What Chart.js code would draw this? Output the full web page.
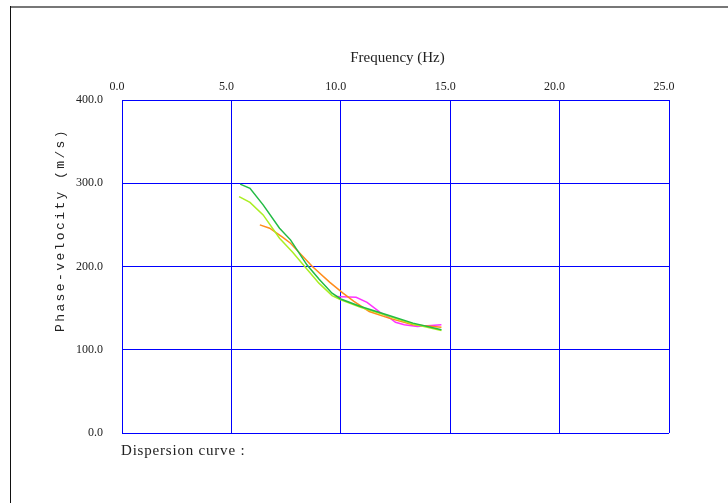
<!DOCTYPE html>
<html>
<head>
<meta charset="utf-8">
<script src="https://cdn.jsdelivr.net/npm/chart.js@4"></script>
<style>
  body { margin: 0; background: #fff; }
  canvas { display: block; }
</style>
</head>
<body>
<canvas id="chart-area-1" width="728" height="503"></canvas>
<script>
// axis ticks
var freqTicks = [0, 5, 10, 15, 20, 25];
var velTicks = [0, 100, 200, 300, 400];

// dispersion curves (frequency Hz, phase velocity m/s)
var freqDarkGreen = [5.4, 5.85, 6.45, 7.2, 7.7, 8.45, 9.0, 9.6, 10.0, 10.9, 12.1, 13.3, 14.6];
var velDarkGreen  = [299, 294, 274, 246, 232, 202, 185, 168, 161, 152, 142, 132, 124];

var freqLightGreen = [5.35, 5.85, 6.45, 7.2, 7.8, 8.35, 9.0, 9.6, 10.0, 10.9, 12.1, 13.3, 14.6];
var velLightGreen  = [284, 277, 262, 234, 217, 200, 180, 165, 160, 151, 141, 131, 123];

var freqOrange = [6.3, 6.75, 7.35, 7.7, 8.7, 9.5, 10.1, 10.6, 11.3, 12.2, 13.3, 14.6];
var velOrange  = [250, 246, 235, 228, 200, 181, 168, 158, 146, 138, 130, 127];

var freqMagenta = [9.75, 10.7, 11.2, 11.8, 12.25, 12.5, 12.9, 13.5, 14.6];
var velMagenta  = [164, 163, 157, 145, 138, 133, 130, 128, 130];

function toPoints(xs, ys){
	var pts = [];
	for (var i = 0; i < xs.length; i++) {
		pts.push({x: xs[i], y: ys[i]});
	}
	return pts;
}

function curve(xs, ys, color){
	return {
		data: toPoints(xs, ys),
		borderColor: color,
		backgroundColor: color,
		borderWidth: 1.5,
		showLine: true,
		pointRadius: 0,
		tension: 0
	};
}

// extra texts and the frame round the picture
var decorations = {
	id: 'decorations',
	afterDraw: function(chart){
		var ctx = chart.ctx;
		var area = chart.chartArea;
		ctx.save();

		// frame
		ctx.strokeStyle = '#777';
		ctx.lineWidth = 2;
		ctx.beginPath();
		ctx.moveTo(10, 7);
		ctx.lineTo(728, 7);
		ctx.stroke();
		ctx.strokeStyle = '#111';
		ctx.lineWidth = 1;
		ctx.beginPath();
		ctx.moveTo(10.5, 6);
		ctx.lineTo(10.5, 503);
		ctx.stroke();

		ctx.fillStyle = '#222';
		ctx.textAlign = 'center';
		ctx.textBaseline = 'middle';
		ctx.font = '15px "Liberation Serif"';
		ctx.fillText('Frequency (Hz)', (area.left + area.right) / 2 + 2, 58);

		ctx.save();
		ctx.translate(61, 230);
		ctx.rotate(-Math.PI / 2);
		ctx.font = '13px "Liberation Mono"';
		ctx.letterSpacing = '2.4px';
		ctx.fillText('Phase-velocity (m/s)', 0, 0);
		ctx.restore();

		ctx.textAlign = 'left';
		ctx.font = '15px "Liberation Serif"';
		ctx.letterSpacing = '0.8px';
		ctx.fillText('Dispersion curve :', area.left - 1, 451);
		ctx.restore();
	}
};

var ctx = document.getElementById('chart-area-1').getContext('2d');
window.myChart = new Chart(ctx, {
	type: 'scatter',
	data: {
		datasets: [
			curve(freqDarkGreen, velDarkGreen, '#22bb44'),
			curve(freqLightGreen, velLightGreen, '#aaee22'),
			curve(freqOrange, velOrange, '#ff8c1a'),
			curve(freqMagenta, velMagenta, '#ff33ff')
		]
	},
	options: {
		responsive: false,
		animation: false,
		layout: {
			padding: {left: 0, top: 0, right: 59, bottom: 70}
		},
		plugins: {
			legend: {display: false},
			tooltip: {enabled: false}
		},
		scales: {
			x: {
				type: 'linear',
				position: 'top',
				min: freqTicks[0],
				max: freqTicks[freqTicks.length - 1],
				afterBuildTicks: function(scale){
					scale.ticks = freqTicks.map(function(v){ return {value: v}; });
				},
				afterFit: function(scale){ scale.height = 100; },
				ticks: {
					callback: function(v){ return Number(v).toFixed(1); },
					font: {family: 'Liberation Serif', size: 12},
					color: '#222',
					padding: 6,
					labelOffset: -5,
					maxRotation: 0
				},
				grid: {color: '#0000ff', lineWidth: 1, drawTicks: false},
				border: {color: '#0000ff', width: 1}
			},
			y: {
				type: 'linear',
				position: 'left',
				min: velTicks[0],
				max: velTicks[velTicks.length - 1],
				afterBuildTicks: function(scale){
					scale.ticks = velTicks.map(function(v){ return {value: v}; });
				},
				afterFit: function(scale){ scale.width = 122; },
				ticks: {
					callback: function(v){ return Number(v).toFixed(1); },
					font: {family: 'Liberation Serif', size: 12},
					color: '#222',
					padding: 19
				},
				grid: {color: '#0000ff', lineWidth: 1, drawTicks: false},
				border: {color: '#0000ff', width: 1}
			}
		}
	},
	plugins: [decorations]
});
</script>
</body>
</html>
